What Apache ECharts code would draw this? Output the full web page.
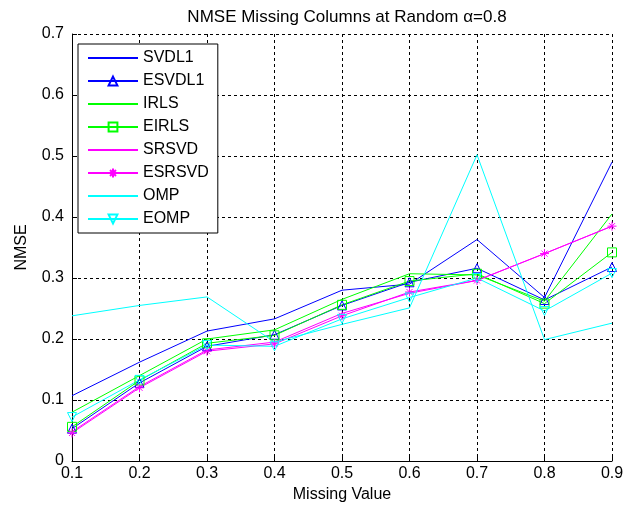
<!DOCTYPE html>
<html>
<head>
<meta charset="utf-8">
<script src="https://cdn.jsdelivr.net/npm/echarts@6/dist/echarts.min.js"></script>
<style>html,body{margin:0;padding:0;background:#fff;}#c{width:640px;height:508px;}</style>
</head>
<body>
<div id="c"></div>
<script>
const missing = [0.1, 0.2, 0.3, 0.4, 0.5, 0.6, 0.7, 0.8, 0.9];
const SVDL1  = [0.107, 0.162, 0.213, 0.233, 0.280, 0.290, 0.363, 0.268, 0.490];
const ESVDL1 = [0.053, 0.128, 0.188, 0.207, 0.255, 0.293, 0.316, 0.264, 0.318];
const IRLS   = [0.080, 0.140, 0.200, 0.215, 0.265, 0.307, 0.305, 0.262, 0.405];
const EIRLS  = [0.056, 0.132, 0.193, 0.206, 0.256, 0.295, 0.307, 0.258, 0.342];
const SRSVD  = [0.048, 0.122, 0.182, 0.195, 0.242, 0.275, 0.296, 0.340, 0.385];
const ESRSVD = [0.046, 0.120, 0.180, 0.192, 0.238, 0.277, 0.296, 0.340, 0.385];
const OMP    = [0.238, 0.255, 0.269, 0.195, 0.224, 0.251, 0.502, 0.199, 0.226];
const EOMP   = [0.072, 0.133, 0.190, 0.188, 0.233, 0.268, 0.300, 0.246, 0.308];
const yTicks = [0, 0.1, 0.2, 0.3, 0.4, 0.5, 0.6, 0.7];

const FONT = 'Liberation Sans, Arial, sans-serif';
const pts = arr => missing.map((x, i) => [x, arr[i]]);

function mk(name, data, color, symbol, size) {
  const none = symbol === 'none';
  return {
    name, type: 'line', data: pts(data),
    lineStyle: { color, width: 1 },
    itemStyle: none
      ? { color: 'rgba(0,0,0,0)', borderColor: 'rgba(0,0,0,0)', borderWidth: 0 }
      : { color: 'rgba(0,0,0,0)', borderColor: color, borderWidth: 1 },
    symbol: none ? 'circle' : symbol, symbolSize: none ? 0 : (size || 9), showSymbol: !none,
    animation: false, silent: true
  };
}
const STAR = 'path://M5,0L5,10M0,5L10,5M1.6,1.6L8.4,8.4M1.6,8.4L8.4,1.6';
const TRI_DOWN = 'path://M0,0L10,0L5,9Z';

const chart = echarts.init(document.getElementById('c'), null, { renderer: 'canvas' });
chart.setOption({
  backgroundColor: '#fff',
  animation: false,
  title: {
    text: 'NMSE Missing Columns at Random \u03b1=0.8',
    left: 342, top: 4, textAlign: 'center',
    textStyle: { fontFamily: FONT, fontSize: 17, fontWeight: 'normal', color: '#000' }
  },
  grid: { left: 72, right: 28, top: 34, bottom: 47 },
  legend: {
    orient: 'vertical', left: 78, top: 44,
    itemWidth: 50, itemHeight: 11, itemGap: 7,
    padding: [6, 9, 6, 9],
    backgroundColor: '#fff', borderColor: '#000', borderWidth: 1, borderRadius: 0,
    textStyle: { fontFamily: FONT, fontSize: 16, color: '#000', lineHeight: 14 },
    data: ['SVDL1', 'ESVDL1', 'IRLS', 'EIRLS', 'SRSVD', 'ESRSVD', 'OMP', 'EOMP']
  },
  xAxis: {
    type: 'value', min: 0.1, max: 0.9, interval: 0.1,
    name: 'Missing Value', nameLocation: 'middle', nameGap: 26,
    nameTextStyle: { fontFamily: FONT, fontSize: 16, color: '#000' },
    axisLine: { show: true, lineStyle: { color: '#000', width: 1 } },
    axisTick: { show: true, inside: true, length: 5, lineStyle: { color: '#000' } },
    axisLabel: { fontFamily: FONT, fontSize: 16, color: '#000', margin: 5, formatter: v => v.toFixed(1) },
    splitLine: { show: true, lineStyle: { color: '#000', type: [3, 3], width: 1 } }
  },
  yAxis: {
    type: 'value', min: 0, max: 0.7, interval: 0.1,
    name: 'NMSE', nameLocation: 'middle', nameGap: 42,
    nameTextStyle: { fontFamily: FONT, fontSize: 16, color: '#000' },
    axisLine: { show: true, lineStyle: { color: '#000', width: 1 } },
    axisTick: { show: true, inside: true, length: 5, lineStyle: { color: '#000' } },
    axisLabel: { fontFamily: FONT, fontSize: 16, color: '#000', margin: 8,
      formatter: v => { const t = yTicks.find(k => Math.abs(k - v) < 1e-9); return t === 0 ? '0' : (t !== undefined ? t.toFixed(1) : ''); } },
    splitLine: { show: true, lineStyle: { color: '#000', type: [3, 3], width: 1 } }
  },
  series: [
    mk('SVDL1', SVDL1, '#0000ff', 'none'),
    mk('ESVDL1', ESVDL1, '#0000ff', 'triangle', 9),
    mk('IRLS', IRLS, '#00ff00', 'none'),
    mk('EIRLS', EIRLS, '#00ff00', 'rect', 9),
    mk('SRSVD', SRSVD, '#ff00ff', 'none'),
    mk('ESRSVD', ESRSVD, '#ff00ff', STAR, 9),
    mk('OMP', OMP, '#00ffff', 'none'),
    mk('EOMP', EOMP, '#00ffff', TRI_DOWN, 9)
  ]
});
</script>
</body>
</html>
